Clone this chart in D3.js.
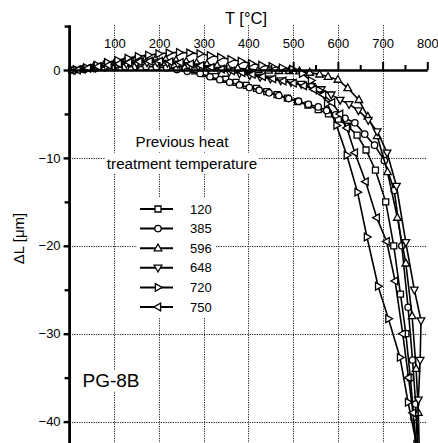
<!DOCTYPE html>
<html><head><meta charset="utf-8">
<script src="https://cdn.jsdelivr.net/npm/d3@7"></script>
<style>
html,body{margin:0;padding:0;background:#fff;}
svg{display:block;font-family:"Liberation Sans",Arial,sans-serif;}
</style></head>
<body><svg id="c" width="438" height="443"></svg>
<script>
// ---- data (T in °C, ΔL in µm) ----
const xTicks = [100,200,300,400,500,600,700,800];
const xMinorTicks = [50,150,250,350,450,550,650,750];
const yTicks = [0,-10,-20,-30,-40];
const yMinorTicks = [5,-5,-15,-25,-35];
const xGrid = [100,200,300,400,500,600,700];
const yGrid = [-10,-20,-30,-40];
const seriesNames = ["120","385","596","648","720","750"];
const seriesSymbols = ["square","circle","up","down","right","left"];

const s120 = [[5,0],[28,0.1],[50,0.25],[73,0.4],[96,0.55],[119,0.7],[142,0.85],[165,0.95],[188,0.95],[211,0.85],[234,0.6],[257,0.25],[280,-0.1],[303,-0.4],[326,-0.75],[349,-1.05],[372,-1.4],[395,-1.75],[418,-2.1],[441,-2.45],[464,-2.8],[487,-3.2],[510,-3.6],[533,-4.0],[556,-4.5],[579,-5.0],[601,-5.6],[622,-6.4],[643,-7.4],[663,-9.1],[684,-11.4],[707,-15.0],[725,-20],[740,-25.5],[752,-30],[762,-35],[770,-39.5],[775,-43]];
const s385 = [[10,0],[33,0.05],[56,0.15],[79,0.25],[102,0.3],[125,0.35],[148,0.4],[171,0.4],[194,0.35],[217,0.25],[240,0.05],[263,-0.15],[292,-0.4],[314,-0.76],[336,-1.1],[358,-1.4],[380,-1.7],[402,-2.0],[424,-2.3],[446,-2.6],[468,-2.9],[490,-3.25],[512,-3.55],[534,-3.9],[556,-4.2],[575,-4.6],[595,-5.1],[616,-5.5],[638,-6.0],[660,-7.3],[682,-8.55],[704,-10.3],[726,-13.7],[743,-20],[757,-27],[767,-33],[774,-38],[778,-43]];
const s596 = [[8,0],[31,0.2],[54,0.4],[77,0.6],[100,0.8],[123,0.95],[146,1.1],[169,1.2],[192,1.25],[215,1.2],[238,1.1],[261,0.95],[284,0.8],[307,0.65],[330,0.5],[353,0.35],[376,0.2],[399,0.1],[422,0.0],[445,-0.05],[468,-0.1],[491,-0.1],[514,-0.15],[537,-0.3],[559,-0.5],[578,-0.76],[600,-1.1],[622,-2.05],[647,-3.4],[667,-5.3],[688,-7.5],[711,-11.6],[733,-16.8],[752,-22],[766,-28],[775,-34],[780,-39],[782,-43]];
const s648 = [[12,0],[35,0.15],[58,0.3],[81,0.45],[104,0.6],[127,0.7],[150,0.8],[173,0.85],[196,0.85],[219,0.8],[242,0.7],[265,0.55],[288,0.4],[311,0.2],[334,0.0],[357,-0.2],[380,-0.4],[403,-0.6],[426,-0.8],[449,-1.0],[472,-1.2],[495,-1.4],[518,-1.6],[541,-1.85],[563,-2.2],[585,-2.8],[605,-3.4],[625,-3.9],[646,-4.6],[668,-5.7],[688,-7.0],[710,-9.4],[731,-13.2],[752,-19.6],[771,-25],[786,-28.5],[784,-33],[780,-37.5],[778,-43]];
const s720 = [[15,0],[38,0.25],[61,0.55],[84,0.85],[107,1.1],[130,1.35],[153,1.55],[176,1.7],[199,1.85],[222,1.95],[245,2.0],[268,1.95],[291,1.85],[314,1.65],[337,1.45],[360,1.2],[383,1.0],[406,0.75],[429,0.55],[452,0.4],[475,0.25],[498,0.1],[520,-0.4],[540,-1.2],[558,-2.3],[576,-3.8],[597,-6.3],[620,-9.7],[644,-13.9],[665,-19.0],[690,-24.6],[713,-28.3],[739,-32.7],[757,-37.8],[776,-42.6]];
const s750 = [[18,0],[41,0.2],[64,0.4],[87,0.55],[110,0.7],[133,0.85],[156,0.95],[179,1.0],[202,1.0],[225,0.95],[248,0.85],[271,0.7],[294,0.5],[317,0.3],[340,0.1],[363,-0.1],[386,-0.3],[409,-0.5],[432,-0.75],[455,-1.0],[478,-1.25],[501,-1.5],[524,-1.8],[546,-2.2],[567,-2.8],[587,-3.7],[605,-5.0],[620,-6.6],[638,-9.4],[662,-12.7],[687,-16.8],[709,-19.5],[728,-24],[745,-30],[758,-35],[768,-39],[775,-43]];
const seriesData = [s120,s385,s596,s648,s720,s750];

// ---- drawing ----
const svg = d3.select("#c");
const x = d3.scaleLinear().domain([0,800]).range([69.6,427.3]);
const y = d3.scaleLinear().domain([0,-40]).range([70,421.6]);
const FONT = '"Liberation Sans",Arial,sans-serif';

// gridlines
const grid = svg.append("g").attr("stroke","#222").attr("stroke-width",1).attr("stroke-dasharray","1.2,1.2");
grid.selectAll(".vg").data(xGrid).join("line")
  .attr("x1",d=>Math.round(x(d))+0.5).attr("x2",d=>Math.round(x(d))+0.5)
  .attr("y1",y(5.1)).attr("y2",443);
grid.selectAll(".hg").data(yGrid).join("line")
  .attr("x1",x(0)).attr("x2",x(800))
  .attr("y1",d=>Math.round(y(d))+0.5).attr("y2",d=>Math.round(y(d))+0.5);

// text blocks with white backgrounds
const ann = svg.append("g");
function boxedText(txt, tx, ty, size, anchor, pad){
  const g = ann.append("g");
  const r = g.append("rect").attr("fill","#fff");
  const t = g.append("text").attr("x",tx).attr("y",ty).attr("font-size",size)
    .attr("text-anchor",anchor).attr("font-family",FONT).attr("fill","#000").text(txt);
  const b = t.node().getBBox();
  r.attr("x",b.x-pad[0]).attr("y",b.y-pad[1]).attr("width",b.width+2*pad[0]).attr("height",b.height+2*pad[1]);
}
boxedText("Previous heat", 182, 147, 15.2, "middle", [2,2]);
boxedText("treatment temperature", 182, 169, 15.2, "middle", [2,2]);
boxedText("PG-8B", 111, 387, 19, "middle", [2,0]);

// legend background
svg.append("rect").attr("x",137).attr("y",198).attr("width",78).attr("height",120).attr("fill","#fff");

// marker generator
function markerPath(sym){
  switch(sym){
    case "square": return "M-3,-3H3V3H-3Z";
    case "circle": return d3.symbol(d3.symbolCircle, Math.PI*3.2*3.2)();
    case "up": return "M0,-4.2L3.8,2.6L-3.8,2.6Z";
    case "down": return "M0,4.2L3.8,-2.6L-3.8,-2.6Z";
    case "right": return "M4.2,0L-2.6,3.8L-2.6,-3.8Z";
    case "left": return "M-4.2,0L2.6,3.8L2.6,-3.8Z";
  }
}

const line = d3.line().x(d=>x(d[0])).y(d=>y(d[1]));
const curves = svg.append("g");
seriesData.forEach((data,i)=>{
  const g = curves.append("g");
  g.append("path").attr("d",line(data)).attr("fill","none").attr("stroke","#000").attr("stroke-width",1.6);
  g.selectAll("path.m").data(data).join("path").attr("class","m")
    .attr("transform",d=>`translate(${x(d[0])},${y(d[1])})`)
    .attr("d",markerPath(seriesSymbols[i]))
    .attr("fill","#fff").attr("stroke","#000").attr("stroke-width",1.3);
});

// legend
const leg = svg.append("g");
seriesNames.forEach((name,i)=>{
  const ly = 209 + i*19.6;
  leg.append("line").attr("x1",140).attr("x2",173).attr("y1",ly).attr("y2",ly).attr("stroke","#000").attr("stroke-width",2);
  leg.append("path").attr("transform",`translate(158,${ly})`).attr("d",markerPath(seriesSymbols[i]))
    .attr("fill","#fff").attr("stroke","#000").attr("stroke-width",1.3);
  leg.append("text").attr("x",190).attr("y",ly+4.6).attr("font-size",13).attr("font-family",FONT).text(name);
});

// x axis (top labels)
const xAxis = svg.append("g").attr("transform",`translate(0,${y(0)})`)
  .call(d3.axisTop(x).tickValues(xTicks).tickSize(8).tickSizeOuter(0).tickPadding(14).tickFormat(d3.format("d")));
xAxis.select(".domain").attr("stroke-width",2.4);
xAxis.selectAll(".tick line").attr("stroke-width",2);
xAxis.selectAll("text").attr("font-size",13).attr("font-family",FONT).attr("fill","#000");
const xMinor = svg.append("g").attr("transform",`translate(0,${y(0)})`)
  .call(d3.axisTop(x).tickValues(xMinorTicks).tickSize(5).tickFormat(""));
xMinor.select(".domain").remove();
xMinor.selectAll(".tick line").attr("stroke-width",2);

// y axis
svg.append("line").attr("x1",x(0)).attr("x2",x(0)).attr("y1",y(5.1)).attr("y2",443)
  .attr("stroke","#000").attr("stroke-width",2.8);
const yAxis = svg.append("g").attr("transform",`translate(${x(0)},0)`)
  .call(d3.axisLeft(y).tickValues(yTicks).tickSize(6).tickPadding(3));
yAxis.select(".domain").remove();
yAxis.selectAll(".tick line").attr("stroke-width",2.4);
yAxis.selectAll("text").attr("font-size",13).attr("font-family",FONT).attr("fill","#000");
const yMinor = svg.append("g").attr("transform",`translate(${x(0)},0)`)
  .call(d3.axisLeft(y).tickValues(yMinorTicks).tickSize(5).tickFormat(""));
yMinor.select(".domain").remove();
yMinor.selectAll(".tick line").attr("stroke-width",2.4);

// axis titles
svg.append("text").attr("x",225).attr("y",24).attr("font-size",16.5).attr("font-family",FONT).text("T [°C]");
svg.append("text").attr("transform","translate(24,238.5) rotate(-90)").attr("text-anchor","middle")
  .attr("font-size",15).attr("font-family",FONT).text("ΔL [μm]");
</script></body></html>
